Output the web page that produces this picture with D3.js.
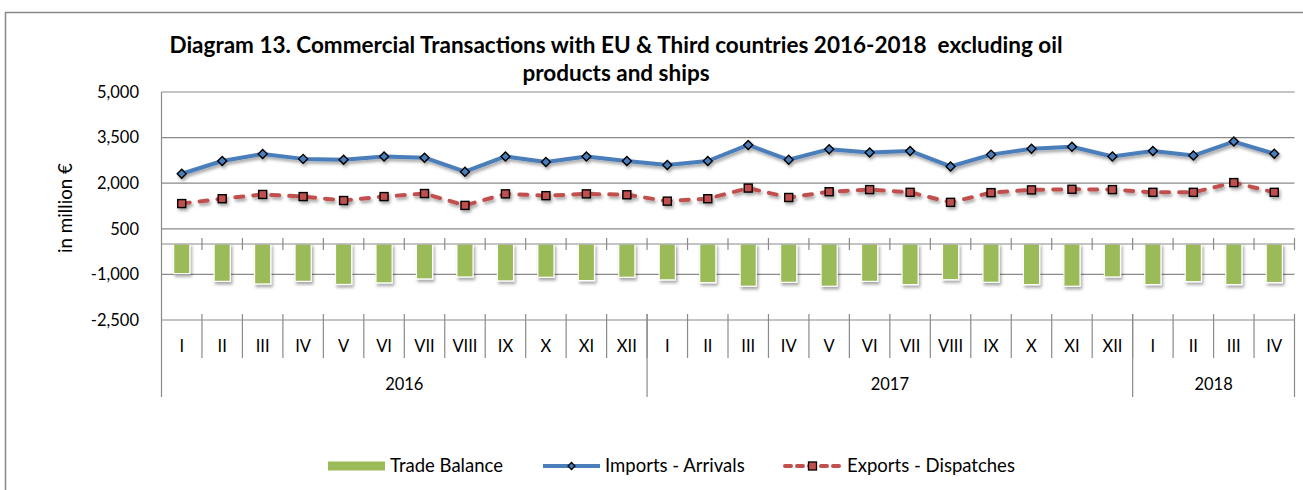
<!DOCTYPE html>
<html>
<head>
<meta charset="utf-8">
<script src="https://cdn.jsdelivr.net/npm/d3@7"></script>
<style>
  html, body { margin: 0; padding: 0; background: #fff; }
  svg { display: block; }
  text { font-family: Lato, "Open Sans", "DejaVu Sans", sans-serif; fill: #000; }
</style>
</head>
<body>
<svg id="chart" width="1303" height="490"></svg>
<script>
// ---------------- DATA ----------------
const months = ["I","II","III","IV","V","VI","VII","VIII","IX","X","XI","XII",
                "I","II","III","IV","V","VI","VII","VIII","IX","X","XI","XII",
                "I","II","III","IV"];
const years = ["2016","2017","2018"];
const yearMonthCounts = [12, 12, 4];
const imports = [2310, 2730, 2960, 2800, 2770, 2880, 2840, 2380, 2880, 2700, 2880, 2730,
                 2600, 2730, 3260, 2770, 3120, 3010, 3060, 2550, 2940, 3130, 3200, 2880,
                 3060, 2910, 3370, 2970];
const exports = [1330, 1490, 1630, 1560, 1430, 1560, 1660, 1270, 1650, 1590, 1650, 1620,
                 1410, 1490, 1840, 1530, 1720, 1790, 1700, 1370, 1690, 1780, 1800, 1790,
                 1700, 1700, 2020, 1700];
const tradeBalance = [-975, -1230, -1315, -1230, -1330, -1280, -1150, -1085, -1215, -1095, -1205, -1095,
                      -1180, -1270, -1390, -1260, -1390, -1230, -1335, -1175, -1260, -1335, -1390, -1085,
                      -1335, -1240, -1335, -1270];
const yTicks = [-2500, -1000, 500, 2000, 3500, 5000];
const titleLines = ["Diagram 13. Commercial Transactions with EU & Third countries 2016-2018  excluding oil",
                    "products and ships"];
const yAxisTitle = "in million €";
const legendLabels = ["Trade Balance", "Imports - Arrivals", "Exports - Dispatches"];

// ---------------- LAYOUT ----------------
const svg = d3.select("#chart");
const L = 161.5, R = 1294.5, T = 92, B = 320;
const GREEN = "#9BBB59", BLUE = "#4A7EBB", RED = "#C0504D", GRID = "#8a8a8a";

const defs = svg.append("defs");
const f = defs.append("filter").attr("id", "shadow").attr("x", "-20%").attr("y", "-20%").attr("width", "150%").attr("height", "150%");
f.append("feDropShadow").attr("dx", 1.5).attr("dy", 2.5).attr("stdDeviation", 1.6)
  .attr("flood-color", "#000").attr("flood-opacity", 0.35);

// outer border
svg.append("rect").attr("x", 5.5).attr("y", 12.5).attr("width", 1320).attr("height", 500)
  .attr("fill", "none").attr("stroke", "#888").attr("stroke-width", 1.5);

const idx = d3.range(months.length);
const x = d3.scaleBand().domain(idx).range([L, R]).padding(0);
const y = d3.scaleLinear().domain([-2500, 5000]).range([B, T]);
const bw = x.bandwidth();
const fmt = v => d3.format(",")(v).replace("\u2212", "-");

function fit(sel, target) {
  const n = sel.node();
  const w = n.getComputedTextLength();
  const fs = parseFloat(sel.attr("font-size"));
  sel.attr("font-size", (fs * target / w).toFixed(2));
}

// gridlines
svg.append("g").selectAll("line").data(yTicks).join("line")
  .attr("x1", L).attr("x2", R)
  .attr("y1", d => y(d)).attr("y2", d => y(d))
  .attr("stroke", GRID).attr("stroke-width", 1.2);

// y tick labels
svg.append("g").selectAll("text").data(yTicks).join("text")
  .attr("x", 139).attr("y", d => y(d)).attr("dy", "0.35em")
  .attr("text-anchor", "end").attr("font-size", 16.5)
  .text(d => fmt(d));

// y axis title
const yt = svg.append("text").attr("transform", `translate(72,${208}) rotate(-90)`)
  .attr("text-anchor", "middle").attr("font-size", 16).text(yAxisTitle);
fit(yt, 90);

// bars
svg.append("g").attr("filter", "url(#shadow)").selectAll("rect").data(idx).join("rect")
  .attr("x", i => x(i) + bw * 0.3).attr("width", bw * 0.4)
  .attr("y", y(0)).attr("height", i => y(tradeBalance[i]) - y(0))
  .attr("fill", GREEN).attr("stroke", "#fff").attr("stroke-width", 1.2);

// zero axis with cross ticks
svg.append("line").attr("x1", L).attr("x2", R).attr("y1", y(0)).attr("y2", y(0))
  .attr("stroke", GRID).attr("stroke-width", 1.2);
svg.append("g").selectAll("line").data(d3.range(1, months.length + 1)).join("line")
  .attr("x1", i => i < months.length ? x(i) : R).attr("x2", i => i < months.length ? x(i) : R)
  .attr("y1", y(0) - 6).attr("y2", y(0) + 6)
  .attr("stroke", GRID).attr("stroke-width", 1.2);

// left axis line
svg.append("line").attr("x1", L).attr("x2", L).attr("y1", T).attr("y2", 397)
  .attr("stroke", GRID).attr("stroke-width", 1.2);

// category separators
svg.append("g").selectAll("line").data(d3.range(1, months.length)).join("line")
  .attr("x1", i => x(i)).attr("x2", i => x(i))
  .attr("y1", 314).attr("y2", 358)
  .attr("stroke", GRID).attr("stroke-width", 1.2);
// group separators
const groupBounds = [0];
yearMonthCounts.forEach((c, k) => groupBounds.push(groupBounds[k] + c));
svg.append("g").selectAll("line").data(groupBounds.slice(1)).join("line")
  .attr("x1", b => b < months.length ? x(b) : R).attr("x2", b => b < months.length ? x(b) : R)
  .attr("y1", 314).attr("y2", 397)
  .attr("stroke", GRID).attr("stroke-width", 1.2);

// month labels
svg.append("g").selectAll("text").data(idx).join("text")
  .attr("x", i => x(i) + bw / 2).attr("y", 346).attr("dy", "0.35em")
  .attr("text-anchor", "middle").attr("font-size", 16.5)
  .text(i => months[i]);
// year labels
svg.append("g").selectAll("text").data(years).join("text")
  .attr("x", (d, k) => {
    const a = x(groupBounds[k]);
    const b = groupBounds[k + 1] < months.length ? x(groupBounds[k + 1]) : R;
    return (a + b) / 2;
  })
  .attr("y", 384).attr("dy", "0.35em")
  .attr("text-anchor", "middle").attr("font-size", 16.5)
  .text(d => d);

// lines
const lineGen = arr => d3.line().x((d, i) => x(i) + bw / 2).y(d => y(d))(arr);
const diamond = r => `M0,${-r}L${r},0L0,${r}L${-r},0Z`;

const gImp = svg.append("g").attr("filter", "url(#shadow)");
gImp.append("path").attr("d", lineGen(imports)).attr("fill", "none")
  .attr("stroke", BLUE).attr("stroke-width", 4).attr("stroke-linejoin", "round");
gImp.selectAll("path.m").data(imports).join("path").attr("class", "m")
  .attr("transform", (d, i) => `translate(${x(i) + bw / 2},${y(d)})`)
  .attr("d", diamond(4.5)).attr("fill", BLUE).attr("stroke", "#000").attr("stroke-width", 1.4);

const gExp = svg.append("g").attr("filter", "url(#shadow)");
gExp.append("path").attr("d", lineGen(exports)).attr("fill", "none")
  .attr("stroke", RED).attr("stroke-width", 4).attr("stroke-dasharray", "8,10")
  .attr("stroke-linecap", "round");
gExp.selectAll("rect.m").data(exports).join("rect").attr("class", "m")
  .attr("x", (d, i) => x(i) + bw / 2 - 4).attr("y", d => y(d) - 4)
  .attr("width", 8).attr("height", 8)
  .attr("fill", RED).attr("stroke", "#000").attr("stroke-width", 1.4);

// title
const t1 = svg.append("text").attr("x", 616).attr("y", 53).attr("text-anchor", "middle")
  .attr("font-weight", "bold").attr("font-size", 18).style("white-space", "pre").text(titleLines[0]);
fit(t1, 893);
svg.append("text").attr("x", 616).attr("y", 81).attr("text-anchor", "middle")
  .attr("font-weight", "bold").attr("font-size", t1.attr("font-size")).text(titleLines[1]);

// legend
const ly = 466;
const lg = svg.append("g");
lg.append("rect").attr("x", 328).attr("y", ly - 4.5).attr("width", 57).attr("height", 9).attr("fill", GREEN);
const lt1 = lg.append("text").attr("x", 390).attr("y", ly).attr("dy", "0.35em").attr("font-size", 16).text(legendLabels[0]);
fit(lt1, 113);
lg.append("line").attr("x1", 543).attr("x2", 600).attr("y1", ly).attr("y2", ly)
  .attr("stroke", BLUE).attr("stroke-width", 4);
lg.append("path").attr("transform", `translate(571.5,${ly})`).attr("d", diamond(3.5))
  .attr("fill", BLUE).attr("stroke", "#000").attr("stroke-width", 1.3);
lg.append("text").attr("x", 605).attr("y", ly).attr("dy", "0.35em").attr("font-size", lt1.attr("font-size")).text(legendLabels[1]);
lg.append("line").attr("x1", 785).attr("x2", 841).attr("y1", ly).attr("y2", ly)
  .attr("stroke", RED).attr("stroke-width", 4).attr("stroke-dasharray", "6,6").attr("stroke-linecap", "round");
lg.append("rect").attr("x", 808.5).attr("y", ly - 4).attr("width", 8).attr("height", 8)
  .attr("fill", RED).attr("stroke", "#000").attr("stroke-width", 1.3);
lg.append("text").attr("x", 847).attr("y", ly).attr("dy", "0.35em").attr("font-size", lt1.attr("font-size")).text(legendLabels[2]);
</script>
</body>
</html>
